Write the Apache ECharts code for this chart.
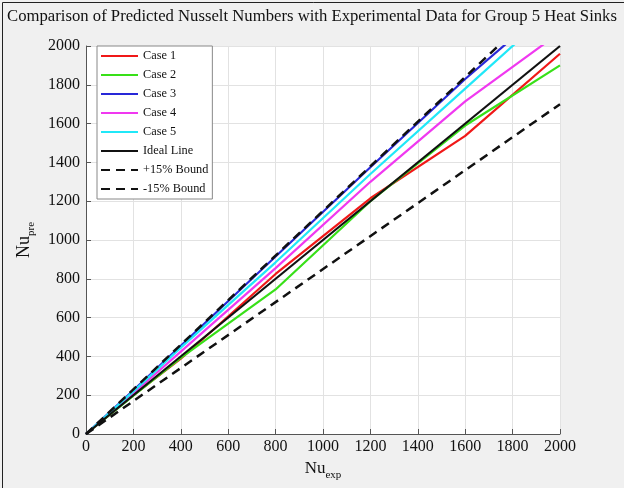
<!DOCTYPE html>
<html><head><meta charset="utf-8">
<script src="https://cdn.jsdelivr.net/npm/echarts@6/dist/echarts.min.js"></script>
<style>html,body{margin:0;padding:0;background:#f0f0f0}#c{width:624px;height:488px}</style>
</head><body><div id="c"></div>
<script>
const nuExp = [0, 200, 400, 800, 1200, 1600, 2000];
const case1 = [0, 200, 388, 825, 1215, 1537, 1960];
const case2 = [0, 198, 392, 745, 1200, 1590, 1900];
const case3 = [0, 225, 455, 915, 1375, 1830, 2250];
const case4 = [0, 210, 425, 855, 1300, 1715, 2070];
const case5 = [0, 220, 445, 885, 1340, 1780, 2220];
const boundX = [0, 2000];
const ideal = [0, 2000];
const plus15 = [0, 2300];
const minus15 = [0, 1700];

const serif = '"Liberation Serif", "DejaVu Serif", serif';
function pairs(xs, ys){ return xs.map((x,i)=>[x, ys[i]]); }
function mk(name, xs, ys, color, dashed){
  return {name, type:'line', data: pairs(xs, ys), symbol:'none', clip:true,
    lineStyle:{color, width: dashed?2.5:2.2, type: dashed?[9,6]:'solid'}, itemStyle:{color},
    emphasis:{disabled:true}, z: dashed?3:2};
}
const chart = echarts.init(document.getElementById('c'));
chart.setOption({
  backgroundColor:'#f0f0f0',
  animation:false,
  graphic:[{type:'rect', left:0, top:0, shape:{x:0.5,y:0.5,width:623,height:487}, style:{fill:'none', stroke:'#222', lineWidth:1}, silent:true, z:-1},
           {type:'rect', shape:{x:86,y:46,width:474,height:388}, style:{fill:'#fff'}, silent:true, z:-10}],
  title:{text:'Comparison of Predicted Nusselt Numbers with Experimental Data for Group 5 Heat Sinks', left:'center', top:3,
    textStyle:{fontFamily:serif, fontSize:16.7, fontWeight:'normal', color:'#111'}},
  grid:{left:86, right:64, top:46, bottom:54, containLabel:false},
  legend:{orient:'vertical', left:97, top:46, itemWidth:37, itemHeight:12, itemGap:7,
    backgroundColor:'#fff', borderColor:'#888', borderWidth:1, padding:[4,4,4,3],
    itemStyle:{opacity:0},
    textStyle:{fontFamily:serif, fontSize:12.3, color:'#111'},
    data:['Case 1','Case 2','Case 3','Case 4','Case 5','Ideal Line','+15% Bound','-15% Bound']},
  xAxis:{type:'value', min:0, max:2000, interval:200,
    name:'{a|Nu}{b|exp}', nameLocation:'middle', nameGap:22,
    nameTextStyle:{rich:{a:{fontFamily:serif, fontSize:17, color:'#111'}, b:{fontFamily:serif, fontSize:11, color:'#111', padding:[14,0,0,0]}}},
    axisLine:{show:true, lineStyle:{color:'#555', width:1}},
    axisTick:{show:true, inside:true, length:5, lineStyle:{color:'#555'}},
    axisLabel:{fontFamily:serif, fontSize:16, color:'#111', margin:5, formatter:v=>String(v)},
    splitLine:{show:true, lineStyle:{color:'#e2e2e2', width:1}}},
  yAxis:{type:'value', min:0, max:2000, interval:200,
    name:'{a|Nu}{b|pre}', nameLocation:'middle', nameGap:47, nameRotate:90,
    nameTextStyle:{rich:{a:{fontFamily:serif, fontSize:18, color:'#111'}, b:{fontFamily:serif, fontSize:11, color:'#111', padding:[14,0,0,0]}}},
    axisLine:{show:true, lineStyle:{color:'#555', width:1}},
    axisTick:{show:true, inside:true, length:5, lineStyle:{color:'#555'}},
    axisLabel:{fontFamily:serif, fontSize:16, color:'#111', margin:6, formatter:v=>String(v)},
    splitLine:{show:true, lineStyle:{color:'#e2e2e2', width:1}}},
  series:[
    mk('Case 1', nuExp, case1, '#f01818', false),
    mk('Case 2', nuExp, case2, '#38e018', false),
    mk('Case 3', nuExp, case3, '#2828d8', false),
    mk('Case 4', nuExp, case4, '#f038f0', false),
    mk('Case 5', nuExp, case5, '#20e8f8', false),
    mk('Ideal Line', boundX, ideal, '#111', false),
    mk('+15% Bound', boundX, plus15, '#111', true),
    mk('-15% Bound', boundX, minus15, '#111', true)
  ]
});
</script></body></html>
